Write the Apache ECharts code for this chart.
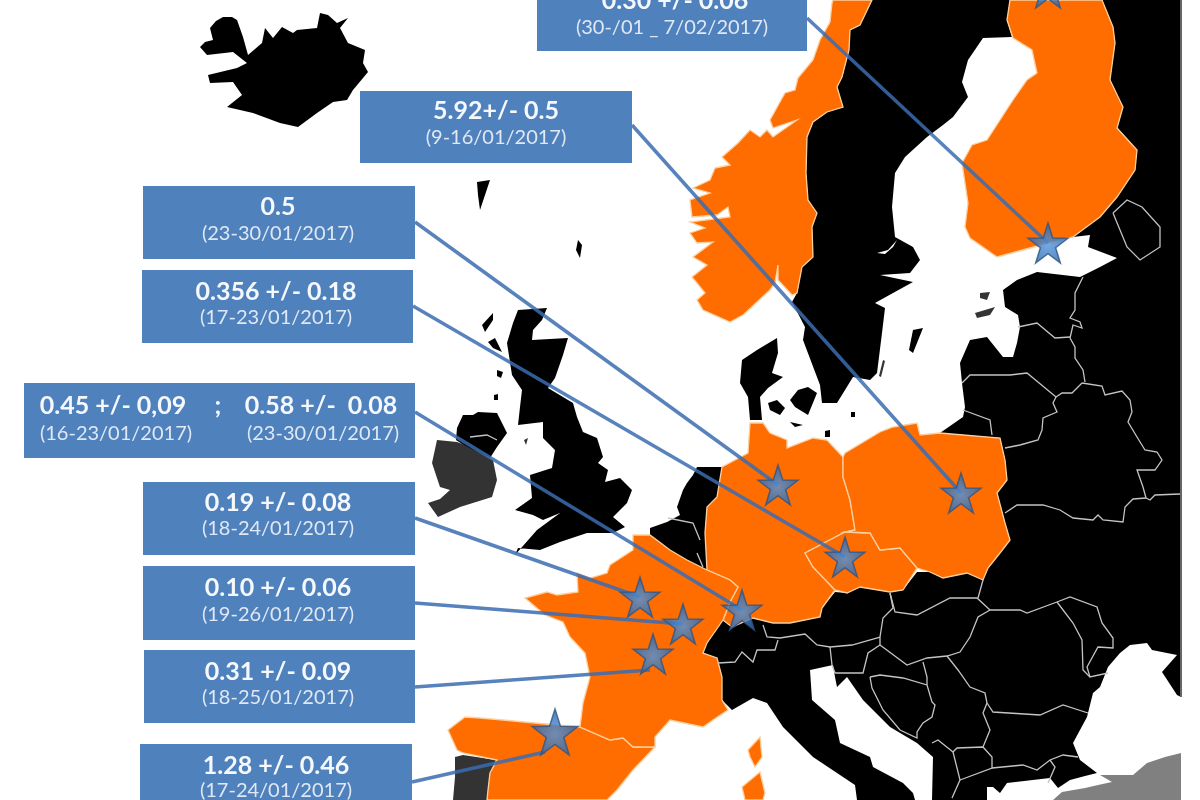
<!DOCTYPE html>
<html>
<head>
<meta charset="utf-8">
<title>Europe map</title>
<script src="https://cdn.jsdelivr.net/npm/echarts@6/dist/echarts.min.js"></script>
<style>
html, body { margin: 0; padding: 0; background: #fff; }
#main { width: 1200px; height: 800px; }
</style>
</head>
<body>
<div id="main"></div>
<script>
// outlines, in map units (1 unit = 1 px of the picture)
var iceland = [[200,47],[205,42],[213,40],[210,28],[216,21],[223,17],[232,17],[237,20],[243,37],[248,55],[262,43],[265,28],[273,38],[282,27],[293,33],[297,30],[317,28],[320,13],[328,15],[337,23],[348,18],[340,28],[348,43],[365,50],[363,63],[368,72],[353,90],[347,100],[333,102],[317,113],[298,127],[280,123],[253,113],[227,107],[242,95],[233,82],[210,83],[208,75],[237,68],[247,63],[233,52],[207,55]];
var norway = [[872,0],[860,25],[850,30],[849,50],[842,77],[837,87],[843,107],[827,112],[813,122],[807,137],[806,173],[808,200],[817,213],[812,227],[813,257],[802,267],[797,293],[792,295],[778,280],[778,265],[775,283],[770,290],[743,315],[730,322],[703,310],[697,300],[705,293],[692,277],[707,265],[693,257],[713,242],[697,243],[690,233],[705,228],[690,222],[730,217],[728,207],[717,215],[692,217],[690,200],[710,193],[693,188],[710,180],[715,168],[730,165],[722,157],[738,143],[750,130],[760,137],[767,130],[773,137],[797,120],[773,128],[770,120],[785,93],[795,90],[798,78],[813,60],[820,40],[830,22],[832,3],[833,0]];
var sweden = [[872,0],[1010,0],[1007,20],[1012,37],[983,38],[968,60],[962,82],[968,97],[953,117],[943,125],[927,137],[905,157],[895,173],[892,207],[895,237],[913,247],[920,260],[910,273],[880,275],[913,282],[893,293],[875,303],[885,308],[882,333],[877,373],[870,380],[853,377],[837,403],[822,403],[820,385],[803,340],[805,327],[792,302],[797,293],[802,267],[813,257],[812,227],[817,213],[808,200],[806,173],[807,137],[813,122],[827,112],[843,107],[837,87],[842,77],[849,50],[850,30],[860,25]];
var swedenInlet = [[877,253],[888,250],[897,240],[893,247],[885,254]];
var finland = [[1010,0],[1102,0],[1113,27],[1115,43],[1110,80],[1123,107],[1117,128],[1137,150],[1135,170],[1117,197],[1100,217],[1073,237],[1030,248],[997,257],[970,238],[965,227],[968,203],[962,163],[972,145],[987,140],[1013,100],[1027,80],[1037,73],[1032,50],[1013,38],[1007,20]];
var mainland = [[1102,0],[1181,0],[1181,697],[1177,695],[1162,672],[1177,655],[1152,650],[1147,643],[1130,645],[1120,653],[1108,667],[1100,687],[1093,693],[1087,717],[1073,743],[1080,760],[1097,773],[1085,776],[1070,780],[1058,788],[1050,778],[1007,783],[1000,793],[993,787],[987,787],[987,800],[932,800],[933,757],[917,743],[890,727],[863,700],[847,677],[837,687],[835,677],[833,665],[810,670],[812,700],[835,720],[840,743],[870,757],[873,767],[903,783],[913,793],[915,800],[857,800],[855,785],[813,757],[783,727],[767,703],[753,698],[732,710],[722,700],[722,677],[717,658],[703,653],[707,643],[723,620],[732,627],[753,618],[773,623],[790,623],[820,617],[822,608],[835,592],[847,593],[860,587],[890,592],[903,590],[917,572],[930,572],[943,578],[967,573],[983,580],[988,568],[1000,553],[1010,540],[1005,523],[997,493],[1007,480],[1005,460],[1000,438],[940,433],[963,417],[965,407],[962,383],[960,363],[970,340],[987,337],[1003,357],[1013,357],[1017,343],[1020,327],[1018,315],[1005,307],[1003,290],[1017,280],[1037,272],[1080,277],[1100,267],[1117,258],[1088,247],[1090,235],[1073,237],[1100,217],[1117,197],[1135,170],[1137,150],[1117,128],[1123,107],[1110,80],[1115,43],[1113,27]];
var turkey = [[1053,800],[1062,792],[1085,788],[1098,785],[1112,782],[1100,775],[1133,775],[1147,763],[1165,757],[1181,753],[1181,800]];
var germany = [[750,423],[763,423],[770,433],[787,440],[787,448],[813,438],[827,440],[843,457],[843,477],[850,500],[855,530],[845,532],[805,553],[813,567],[835,590],[822,608],[820,617],[790,623],[773,623],[753,618],[732,627],[723,620],[730,602],[738,587],[730,580],[707,570],[705,533],[707,507],[717,497],[722,467],[748,453]];
var czechia = [[845,532],[870,533],[880,550],[900,548],[917,568],[903,590],[890,592],[860,587],[847,593],[835,590],[813,567],[805,553]];
var poland = [[845,453],[880,432],[893,427],[917,423],[920,435],[940,433],[1000,438],[1005,460],[1007,480],[997,493],[1005,523],[1010,540],[1000,553],[988,568],[983,580],[967,573],[943,578],[930,572],[917,568],[900,548],[880,550],[870,533],[845,532],[855,530],[850,500],[843,477],[843,457]];
var france = [[633,535],[650,535],[670,550],[687,560],[707,570],[730,580],[738,587],[730,602],[723,620],[707,643],[703,653],[717,658],[722,677],[722,700],[728,710],[713,720],[703,727],[670,720],[655,737],[655,747],[633,747],[623,738],[610,740],[580,727],[583,703],[590,677],[585,653],[570,637],[563,622],[545,615],[525,598],[547,592],[557,595],[578,592],[577,573],[590,578],[607,573],[610,565],[633,550]];
var corsica = [[748,750],[760,737],[762,757],[755,767],[750,757]];
var sardinia = [[742,787],[760,772],[765,793],[763,800],[745,800]];
var spain = [[448,730],[465,717],[480,718],[503,720],[535,723],[580,727],[610,740],[623,738],[633,747],[655,747],[633,770],[617,790],[607,800],[487,800],[488,790],[490,773],[497,760],[463,753],[457,750]];
var portugal = [[455,757],[463,755],[496,760],[490,773],[488,790],[487,800],[453,800],[455,777]];
var benelux = [[650,528],[667,522],[680,515],[677,507],[683,490],[687,483],[693,475],[697,467],[722,467],[717,497],[707,507],[705,533],[707,570],[695,565],[677,557],[650,535]];
var britain = [[518,310],[547,308],[542,320],[533,330],[532,340],[568,338],[563,355],[555,378],[548,388],[573,403],[577,417],[583,432],[597,438],[603,457],[598,463],[608,470],[605,482],[620,478],[632,490],[627,503],[613,517],[625,527],[613,533],[587,533],[560,542],[540,550],[518,548],[515,555],[537,530],[560,513],[543,520],[533,515],[515,510],[532,498],[530,475],[552,468],[555,450],[543,438],[543,422],[518,425],[520,407],[522,390],[512,375],[507,343],[513,323]];
var ireland = [[437,440],[457,442],[470,447],[493,460],[497,480],[492,497],[460,507],[438,517],[428,503],[440,499],[450,490],[440,487],[432,463]];
var ulster = [[457,428],[463,415],[473,415],[478,412],[497,413],[507,433],[497,447],[490,458],[472,449],[462,444],[456,440]];
var jutland = [[777,338],[778,353],[772,373],[783,377],[768,388],[760,397],[762,420],[750,420],[748,397],[740,383],[742,360],[757,350]];
var funen = [[768,403],[777,400],[785,408],[780,415],[770,410]];
var zealand = [[790,400],[798,390],[808,387],[817,393],[808,415],[795,407]];
var lolland = [[790,422],[803,425],[795,427]];
var gotland = [[913,330],[923,328],[913,353],[909,350]];
var oland = [[883,360],[885,361],[881,377],[879,376]];
var saaremaa = [[975,313],[995,307],[990,315],[977,318]];
var hiiumaa = [[980,293],[990,292],[987,300],[980,298]];
var bornholm = [[851,412],[855,412],[855,417],[851,417]];
var rugen = [[825,431],[830,430],[830,437],[825,437]];
var shetland = [[578,240],[582,245],[580,258],[576,250]];
var faroe = [[477,182],[490,180],[485,195],[480,210],[478,195]];
var lewis = [[482,325],[493,313],[493,320],[485,332]];
var skye = [[488,342],[495,338],[502,352],[493,348]];
var mull = [[497,370],[503,372],[501,378],[497,376]];
var islay = [[494,395],[498,394],[498,400],[494,400]];
var man = [[524,440],[528,438],[526,445]];

// country borders
var borderLines = [
  [[1083,277],[1075,293],[1075,310],[1070,318],[1080,322],[1082,328],[1073,325],[1070,338]],
  [[1018,327],[1037,323],[1055,338],[1070,337]],
  [[1070,338],[1075,347],[1075,358],[1083,370],[1085,382]],
  [[962,383],[970,375],[1010,375],[1027,373],[1056,397],[1062,393],[1072,393],[1082,383]],
  [[1082,383],[1102,386],[1105,395],[1122,391],[1130,400],[1132,412],[1128,422],[1137,437],[1145,450],[1157,452],[1162,460],[1155,470],[1143,470],[1137,470],[1143,487],[1146,498]],
  [[1146,498],[1150,500],[1155,495],[1180,494]],
  [[1005,513],[1017,505],[1043,505],[1060,510],[1073,518],[1093,520],[1098,515],[1103,520],[1123,522],[1125,507],[1133,499],[1146,498]],
  [[1056,397],[1053,403],[1057,412],[1043,418],[1042,430],[1038,440],[1020,445],[1005,448]],
  [[963,410],[990,420],[992,435]],
  [[890,593],[895,612],[917,615],[950,598],[977,598],[990,610]],
  [[983,580],[978,598]],
  [[990,610],[1020,610],[1027,613],[1057,602],[1070,597],[1097,607],[1102,623],[1113,638],[1113,648],[1098,647],[1087,667],[1090,677],[1108,673]],
  [[1057,602],[1073,623],[1082,640],[1083,670],[1090,677]],
  [[990,610],[978,617],[970,637],[960,652],[947,656],[927,658],[907,665],[880,645]],
  [[890,593],[893,608],[883,618],[880,637],[880,645]],
  [[880,637],[852,645],[830,647],[817,645],[805,634],[780,638],[767,637],[763,625]],
  [[778,640],[775,650],[757,650],[753,662],[742,652],[735,662],[718,663]],
  [[830,647],[832,665],[835,673]],
  [[880,645],[868,653],[863,673],[848,673],[835,673]],
  [[923,662],[927,677],[927,685]],
  [[870,677],[880,675],[903,678],[927,685],[932,702],[935,705],[932,717],[923,723],[917,732],[917,738],[900,730],[883,710],[872,688],[870,677]],
  [[947,656],[958,670],[970,687],[985,693],[987,703]],
  [[987,703],[993,712],[1040,715],[1063,705],[1088,713]],
  [[987,703],[983,713],[990,730],[983,747]],
  [[983,747],[957,748],[953,752],[960,780],[992,768],[992,757],[983,747]],
  [[932,743],[938,740],[953,752]],
  [[960,780],[952,798]],
  [[992,768],[1023,765],[1037,770],[1050,760],[1063,755],[1078,757]],
  [[1050,760],[1055,767],[1048,783]],
  [[1113,213],[1127,200],[1142,207],[1160,227],[1160,247],[1140,260],[1127,247],[1113,213]],
  [[668,518],[693,523],[700,540]],
  [[697,553],[703,567]],
  [[470,437],[487,435],[497,440]]
];
var frameLine = [[1181,0],[1181,697]];

// measuring sites and their leader lines
var siteCoords = [[1048,-12],[1048,243],[961,493],[778,485],[845,557],[742,610],[640,597],[683,624],[653,654],[555,732]];
var leaderLines = [
  [[807,18],[1048,243]],
  [[632,125],[961,493]],
  [[415,222],[778,485]],
  [[413,306],[845,557]],
  [[415,412],[742,610]],
  [[415,518],[640,597]],
  [[415,603],[683,624]],
  [[415,687],[650,670]],
  [[412,782],[545,752]]
];

var boxValues = ['0.30 +/- 0.06', '5.92+/- 0.5', '0.5', '0.356 +/- 0.18', '0.45 +/- 0,09', ';', '0.58 +/-  0.08', '0.19 +/- 0.08', '0.10 +/- 0.06', '0.31 +/- 0.09', '1.28 +/- 0.46'];
var boxDates = ['(30-/01 _ 7/02/2017)', '(9-16/01/2017)', '(23-30/01/2017)', '(17-23/01/2017)', '(16-23/01/2017)', '', '(23-30/01/2017)', '(18-24/01/2017)', '(19-26/01/2017)', '(18-25/01/2017)', '(17-24/01/2017)'];

var lands = [
  ['mainland', mainland, '#000'], ['sweden', sweden, '#000'], ['swedenInlet', swedenInlet, '#fff'],
  ['iceland', iceland, '#000'], ['britain', britain, '#000'], ['ireland', ireland, '#333'], ['ulster', ulster, '#000'], ['benelux', benelux, '#000'],
  ['jutland', jutland, '#000'], ['funen', funen, '#000'], ['zealand', zealand, '#000'], ['lolland', lolland, '#000'],
  ['gotland', gotland, '#000'], ['oland', oland, '#333'], ['saaremaa', saaremaa, '#333'], ['hiiumaa', hiiumaa, '#333'],
  ['bornholm', bornholm, '#000'], ['rugen', rugen, '#000'], ['shetland', shetland, '#000'], ['faroe', faroe, '#000'],
  ['lewis', lewis, '#000'], ['skye', skye, '#000'], ['mull', mull, '#000'], ['islay', islay, '#000'], ['man', man, '#333'],
  ['portugal', portugal, '#333'], ['turkey', turkey, '#808080'],
  ['norway', norway, '#ff6d00'], ['finland', finland, '#ff6d00'], ['germany', germany, '#ff6d00'], ['czechia', czechia, '#ff6d00'],
  ['poland', poland, '#ff6d00'], ['spain', spain, '#ff6d00'], ['france', france, '#ff6d00'], ['corsica', corsica, '#ff6d00'], ['sardinia', sardinia, '#ff6d00']
];

var geoJson = {
  type: 'FeatureCollection',
  features: lands.map(function (l) {
    return { type: 'Feature', properties: { name: l[0] }, geometry: { type: 'Polygon', coordinates: [l[1].concat([l[1][0]])] } };
  })
};
echarts.registerMap('europe', geoJson);

// box rectangles, then the text anchors for boxValues / boxDates
var boxRects = [[537,-30,270,81],[360,91,272,72],[143,186,272,73],[142,270,271,73],[24,383,391,75],[143,482,272,73],[143,566,272,74],[144,650,271,73],[140,744,272,70]];
var valueAnchors = [[675,1],[496,111],[278,207],[276,292],[113,406],[218,406],[321,406],[278,503],[278,588],[278,672],[276,766]];
var dateAnchors = [[672,28],[496,138],[278,234],[276,318],[116,434],[218,434],[323,434],[278,529],[278,615],[278,698],[276,791]];

var graphics = [];
boxRects.forEach(function (r) {
  graphics.push({ type: 'rect', z: 50, shape: { x: r[0], y: r[1], width: r[2], height: r[3] }, style: { fill: '#4f81bd' } });
});
boxValues.forEach(function (t, i) {
  graphics.push({ type: 'text', z: 51, x: valueAnchors[i][0], y: valueAnchors[i][1], style: { text: t, fill: '#f5f8fc', font: 'bold 25px Lato', align: 'center', verticalAlign: 'middle' } });
  if (boxDates[i]) {
    graphics.push({ type: 'text', z: 51, x: dateAnchors[i][0], y: dateAnchors[i][1], style: { text: boxDates[i], fill: '#dfe8f4', font: '20px Lato', align: 'center', verticalAlign: 'middle' } });
  }
});

var starPath = 'path://M50 0 L61.8 35.5 L100 36.3 L69.1 58.8 L80.9 95 L50 73 L19.1 95 L30.9 58.8 L0 36.3 L38.2 35.5 Z';

var option = {
  animation: false,
  backgroundColor: '#fff',
  geo: {
    map: 'europe',
    silent: true,
    roam: false,
    projection: {
      project: function (p) { return p; },
      unproject: function (p) { return p; }
    },
    boundingCoords: [[0, 0], [1200, 800]],
    layoutCenter: ['50%', '50%'],
    layoutSize: 1200,
    label: { show: false },
    itemStyle: { areaColor: '#000', borderWidth: 0 },
    regions: lands.map(function (l) {
      var orange = l[2] === '#ff6d00';
      return {
        name: l[0],
        silent: true,
        itemStyle: { areaColor: l[2], borderColor: orange ? '#fbcf9f' : l[2], borderWidth: orange ? 1.3 : 0 }
      };
    })
  },
  series: [
    {
      type: 'lines',
      coordinateSystem: 'geo',
      polyline: true,
      silent: true,
      z: 3,
      lineStyle: { color: '#c4c4c4', width: 1.3, opacity: 1 },
      data: borderLines.map(function (c) { return { coords: c }; })
    },
    {
      type: 'lines',
      coordinateSystem: 'geo',
      polyline: true,
      silent: true,
      z: 3,
      lineStyle: { color: '#666', width: 2, opacity: 1 },
      data: [{ coords: frameLine }]
    },
    {
      type: 'lines',
      coordinateSystem: 'geo',
      silent: true,
      z: 4,
      lineStyle: { color: '#3a6cb0', width: 3.5, opacity: 0.85, curveness: 0 },
      data: leaderLines.map(function (c) { return { coords: c }; })
    },
    {
      type: 'scatter',
      coordinateSystem: 'geo',
      silent: true,
      z: 5,
      symbol: starPath,
      symbolSize: function (v, p) { return p.dataIndex === siteCoords.length - 1 ? 46 : 40; },
      itemStyle: {
        color: { type: 'radial', x: 0.5, y: 0.55, r: 0.5, colorStops: [{ offset: 0, color: '#4f94dc' }, { offset: 1, color: '#2f66ab' }] },
        borderColor: '#2f5583',
        borderWidth: 1.5
      },
      data: siteCoords
    }
  ],
  graphic: graphics
};

var myChart = echarts.init(document.getElementById('main'));
myChart.setOption(option);
</script>
</body>
</html>
